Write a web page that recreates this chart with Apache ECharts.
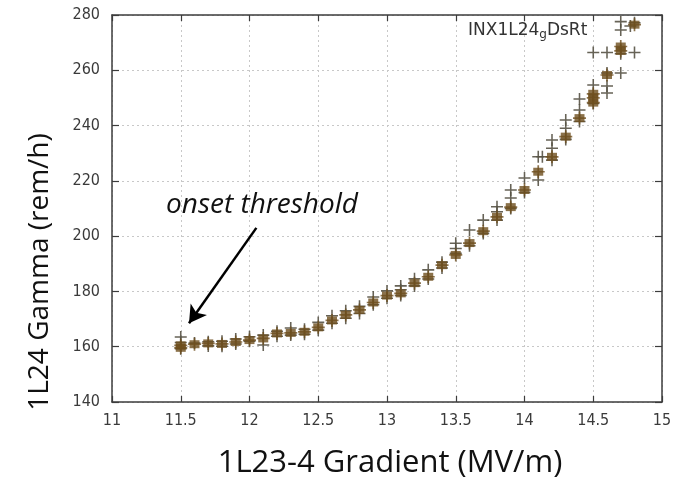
<!DOCTYPE html>
<html>
<head>
<meta charset="utf-8">
<script src="https://cdn.jsdelivr.net/npm/echarts@6/dist/echarts.min.js"></script>
<style>
  html, body { margin: 0; padding: 0; background: #ffffff; }
  #chart { width: 688px; height: 480px; }
</style>
</head>
<body>
<div id="chart"></div>
<script>
// Axis ticks
const xTicks = [11, 11.5, 12, 12.5, 13, 13.5, 14, 14.5, 15];
const yTicks = [140, 160, 180, 200, 220, 240, 260, 280];

// Averaged readings (filled markers)
const gradientMain = [11.5, 11.5, 11.6, 11.7, 11.8, 11.9, 12.0, 12.1, 12.2, 12.3, 12.4, 12.5, 12.6, 12.7, 12.8, 12.9,
  13.0, 13.1, 13.2, 13.3, 13.4, 13.5, 13.6, 13.7, 13.8, 13.9, 14.0, 14.1, 14.2, 14.3, 14.4, 14.5, 14.5, 14.5,
  14.6, 14.7, 14.7, 14.8];
const gammaMain = [160.5, 159.6, 160.9, 161.2, 161.0, 161.7, 162.4, 163.0, 164.8, 165.0, 165.4, 167.0, 169.5, 171.5, 173.3, 176.0,
  178.5, 179.3, 183.0, 185.3, 189.5, 193.2, 197.5, 201.8, 207.0, 210.5, 216.7, 223.3, 228.7, 236.0, 242.7, 250.0, 248.3, 251.5,
  258.3, 267.0, 268.6, 276.5];

// Individual readings (+ markers)
const gradientRaw = [11.5, 11.5, 11.5, 11.6, 11.7, 11.7, 11.8, 11.8, 11.9, 11.9, 12.0, 12.0, 12.1, 12.1, 12.2, 12.2,
  12.3, 12.3, 12.4, 12.4, 12.5, 12.5, 12.6, 12.6, 12.7, 12.7, 12.8, 12.8, 12.9, 12.9, 13.0, 13.0,
  13.1, 13.1, 13.1, 13.2, 13.2, 13.3, 13.3, 13.4, 13.4, 13.5, 13.5, 13.5, 13.6, 13.6, 13.7, 13.7,
  13.8, 13.8, 13.8, 13.9, 13.9, 13.9, 14.0, 14.0, 14.1, 14.1, 14.13, 14.2, 14.2, 14.2,
  14.3, 14.3, 14.3, 14.4, 14.4, 14.4, 14.5, 14.5, 14.5, 14.6, 14.6, 14.6, 14.6,
  14.7, 14.7, 14.7, 14.7, 14.77, 14.8, 14.8];
const gammaRaw = [163.5, 159.3, 161.5, 161.3, 161.8, 160.3, 160.2, 162.0, 162.8, 161.0, 163.6, 162.0, 164.2, 160.6, 165.6, 163.8,
  166.8, 164.2, 166.3, 164.5, 168.8, 166.0, 171.2, 168.5, 173.0, 170.3, 174.6, 172.0, 178.0, 175.2, 180.2, 177.5,
  182.0, 180.6, 178.5, 184.6, 182.0, 187.8, 184.5, 190.6, 188.5, 197.4, 195.5, 193.8, 202.2, 196.5, 205.8, 201.0,
  210.6, 208.8, 205.8, 216.7, 213.8, 210.0, 221.0, 215.8, 228.7, 220.3, 228.7, 234.8, 231.8, 227.5,
  242.0, 239.0, 235.0, 249.6, 245.6, 241.5, 266.4, 254.7, 248.0, 266.4, 254.3, 251.8, 259.0,
  277.6, 274.6, 259.0, 266.0, 276.0, 266.4, 277.2];

// Arrow pointing at the onset region: [gradient, gamma] from tail to head
const arrowTail = [12.05, 203];
const arrowHead = [11.56, 168.5];

const chart = echarts.init(document.getElementById('chart'), null, { renderer: 'canvas' });

const plusPath = 'path://M4.35,0h1.3v10h-1.3zM0,4.35h10v1.3h-10z';
const axisColor = '#3c3c3c';
const tickFont = { color: '#3a3a3a', fontFamily: 'DejaVu Sans Condensed', fontSize: 16 };

function pairs(xs, ys) { return xs.map((x, i) => [x, ys[i]]); }

const baseX = {
  type: 'value', min: 11, max: 15, interval: 0.5,
  axisLine: { show: true, onZero: false, lineStyle: { color: axisColor, width: 1.5 } },
  axisTick: { show: true, inside: true, length: 6, lineStyle: { color: axisColor, width: 1.2 } }
};
const baseY = {
  type: 'value', min: 140, max: 280, interval: 20,
  axisLine: { show: true, onZero: false, lineStyle: { color: axisColor, width: 1.5 } },
  axisTick: { show: true, inside: true, length: 7, lineStyle: { color: axisColor, width: 1.2 } }
};

chart.setOption({
  animation: false,
  backgroundColor: '#ffffff',
  grid: { left: 112, right: 26, top: 15, bottom: 78, containLabel: false },
  xAxis: [
    Object.assign({}, baseX, {
      position: 'bottom',
      axisLabel: Object.assign({ margin: 11, formatter: v => xTicks.includes(v) ? String(v) : '' }, tickFont),
      splitLine: { show: true, lineStyle: { color: '#c8c8c8', type: [2, 3], width: 1 } }
    }),
    Object.assign({}, baseX, {
      position: 'top', axisLabel: { show: false }, splitLine: { show: false }
    })
  ],
  yAxis: [
    Object.assign({}, baseY, {
      position: 'left',
      axisLabel: Object.assign({ margin: 12, formatter: v => yTicks.includes(v) ? String(v) : '' }, tickFont),
      splitLine: { show: true, lineStyle: { color: '#c8c8c8', type: [2, 3], width: 1 } }
    }),
    Object.assign({}, baseY, {
      position: 'right', axisLabel: { show: false }, splitLine: { show: false }
    })
  ],
  series: [
    {
      name: 'raw', type: 'scatter', xAxisIndex: 0, yAxisIndex: 0,
      symbol: plusPath, symbolSize: 12,
      itemStyle: { color: '#575245', opacity: 0.9 },
      data: pairs(gradientRaw, gammaRaw),
      z: 3
    },
    {
      name: 'mean', type: 'scatter', xAxisIndex: 0, yAxisIndex: 0,
      symbol: 'rect', symbolSize: [10, 8],
      itemStyle: { color: '#6e4f1e' },
      data: pairs(gradientMain, gammaMain),
      z: 4
    },
    {
      name: 'meanCross', type: 'scatter', xAxisIndex: 0, yAxisIndex: 0,
      symbol: plusPath, symbolSize: 13,
      itemStyle: { color: '#6e4f1e' },
      data: pairs(gradientMain, gammaMain),
      z: 4,
      markLine: {
        silent: true,
        symbol: ['none', 'arrow'],
        symbolSize: [15, 17],
        label: { show: false },
        lineStyle: { color: '#000', width: 2.5, type: 'solid' },
        data: [[{ coord: arrowTail }, { coord: arrowHead }]]
      }
    }
  ],
  graphic: [
    {
      type: 'text', left: 468, top: 22, z: 10,
      style: {
        text: '{m|INX1L24}{s|g}{m|DsRt}',
        rich: {
          m: { fontFamily: 'DejaVu Sans', fontSize: 17, fill: '#333' },
          s: { fontFamily: 'DejaVu Sans', fontSize: 12, fill: '#333', padding: [9, 0, 0, 0] }
        }
      }
    },
    {
      type: 'text', x: 262, y: 205, z: 10,
      style: {
        text: 'onset threshold', fontFamily: 'Open Sans', fontStyle: 'italic', fontSize: 28,
        fill: '#111', align: 'center', verticalAlign: 'middle'
      }
    },
    {
      type: 'text', x: 390, y: 463, z: 10,
      style: {
        text: '1L23-4 Gradient (MV/m)', fontFamily: 'Open Sans', fontSize: 31,
        fill: '#111', align: 'center', verticalAlign: 'middle'
      }
    },
    {
      type: 'text', x: 40, y: 272, rotation: Math.PI / 2, z: 10,
      style: {
        text: '1L24 Gamma (rem/h)', fontFamily: 'Open Sans', fontSize: 28,
        fill: '#111', align: 'center', verticalAlign: 'middle'
      }
    }
  ]
});
</script>
</body>
</html>
